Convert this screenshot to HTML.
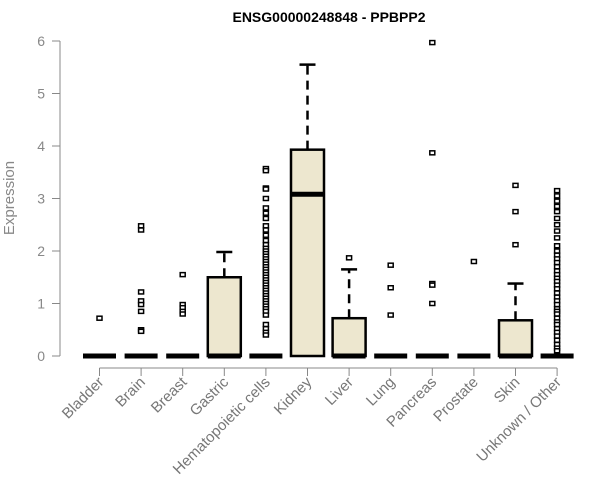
<!DOCTYPE html>
<html><head><meta charset="utf-8"><style>
body{margin:0;background:#fff}
svg{display:block;font-family:"Liberation Sans",Arial,sans-serif}
</style></head><body>
<svg id="chart" width="600" height="500" viewBox="0 0 600 500">
<text x="329" y="22" text-anchor="middle" font-size="14" font-weight="bold">ENSG00000248848 - PPBPP2</text>
<text transform="translate(14,198) rotate(-90)" text-anchor="middle" font-size="15" fill="#888">Expression</text>
<g id="g"></g>
</svg>
<script>
const categories=["Bladder","Brain","Breast","Gastric","Hematopoietic cells","Kidney","Liver","Lung","Pancreas","Prostate","Skin","Unknown / Other"];
const q1=[0,0,0,0,0,0,0,0,0,0,0,0];
const medians=[0,0,0,0,0,3.08,0,0,0,0,0,0];
const q3=[0,0,0,1.5,0,3.93,0.72,0,0,0,0.68,0];
const whiskerHi=[0,0,0,1.98,0,5.55,1.65,0,0,0,1.38,0];
const outliers=[
[0.72],
[2.48,2.4,1.22,1.05,0.98,0.85,0.5,0.47],
[1.55,0.98,0.92,0.85,0.8],
[],
[3.57,3.53,3.2,3.18,3.0,2.82,2.72,2.62,2.48,2.4,2.3,2.2,2.12,2.05,2.0,1.95,1.9,1.85,1.8,1.75,1.7,1.65,1.6,1.55,1.5,1.45,1.4,1.35,1.3,1.25,1.2,1.15,1.1,1.05,1.0,0.95,0.9,0.85,0.78,0.6,0.52,0.45,0.4],
[],
[1.87],
[1.73,1.3,0.78],
[5.97,3.87,1.38,1.35,1.0],
[1.8],
[3.25,2.75,2.12],
[3.15,3.05,2.95,2.85,2.75,2.62,2.5,2.38,2.25,2.1,2.0,1.92,1.85,1.78,1.7,1.62,1.55,1.48,1.42,1.35,1.28,1.2,1.12,1.05,0.98,0.9,0.85,0.8,0.72,0.65,0.6,0.52,0.45,0.38,0.3,0.22,0.15,0.1]
];
const yTicks=[0,1,2,3,4,5,6];
const NS="http://www.w3.org/2000/svg";
const g=document.getElementById("g");
const X=i=>99.5+i*41.6;
const Y=v=>356-v*52.5;
function mk(t,a){const e=document.createElementNS(NS,t);for(const k in a)e.setAttribute(k,a[k]);g.appendChild(e);return e;}
let ax=mk("line",{x1:60,x2:60,y1:Y(6),y2:Y(0),stroke:"#888"});


yTicks.forEach(v=>{
 let t=mk("line",{x1:52,x2:60,y1:Y(v),y2:Y(v),stroke:"#888"});
 
 
 let l=mk("text",{x:45,y:Y(v)+5,"text-anchor":"end","font-size":14,fill:"#888"});
 l.textContent=v;
 
 
});
let xa=mk("line",{x1:X(0),x2:X(11),y1:368,y2:368,stroke:"#888"});


categories.forEach((c,i)=>{
 const x=X(i),w=33;
 let t=mk("line",{x1:x,x2:x,y1:368,y2:376,stroke:"#888"});
 
 
 let l=mk("text",{x:x+5,y:383,"text-anchor":"end","font-size":15,fill:"#777",transform:`rotate(-45 ${x+5} 383)`});
 l.textContent=c;
 
 
 if(whiskerHi[i]>q3[i]){
  let wl=mk("line",{x1:x,x2:x,y1:Y(q3[i]),y2:Y(whiskerHi[i]),stroke:"#000","stroke-width":2.5,"stroke-dasharray":"9,6"});
  
  
  let cap=mk("line",{x1:x-8,x2:x+8,y1:Y(whiskerHi[i]),y2:Y(whiskerHi[i]),stroke:"#000","stroke-width":2.5});
  
  
 }
 if(q3[i]>q1[i]){
  let b=mk("rect",{x:x-w/2,y:Y(q3[i]),width:w,height:Y(q1[i])-Y(q3[i]),fill:"#ede7cf",stroke:"#000","stroke-width":2.5});
  
  
 }
 let m=mk("line",{x1:x-w/2,x2:x+w/2,y1:Y(medians[i]),y2:Y(medians[i]),stroke:"#000","stroke-width":5});
 
 
 outliers[i].forEach(v=>{
  let p=mk("rect",{x:x-2.5,y:Y(v)-2,width:5,height:4,fill:"#fff",stroke:"#000","stroke-width":1.5});
  
  
 });
});
</script>
</body></html>
